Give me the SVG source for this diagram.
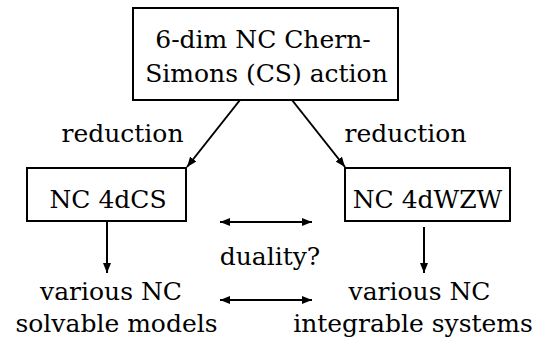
<svg xmlns="http://www.w3.org/2000/svg" width="540" height="339" viewBox="0 0 540 339">
<style>
text{font-family:"DejaVu Serif","Liberation Serif",serif;font-size:25px;fill:#000;text-anchor:middle}
.box{fill:#fff;stroke:#000;stroke-width:2}
.ln{stroke:#000;stroke-width:2;fill:none}
</style>
<defs>
<marker id="ah" viewBox="0 0 10 8" refX="10" refY="4" markerWidth="5" markerHeight="4" orient="auto-start-reverse" markerUnits="strokeWidth">
<path d="M0,0 L10,4 L0,8 Z" fill="#000"/>
</marker>
</defs>
<rect width="540" height="339" fill="#fff"/>
<g id="connectors">
<line class="ln" x1="240" y1="100" x2="187" y2="167" marker-end="url(#ah)"/>
<line class="ln" x1="292" y1="100" x2="345" y2="167" marker-end="url(#ah)"/>
<line class="ln" x1="107" y1="222" x2="107" y2="273" marker-end="url(#ah)"/>
<line class="ln" x1="424" y1="227" x2="424" y2="273" marker-end="url(#ah)"/>
<line class="ln" x1="220" y1="222" x2="312" y2="222" marker-start="url(#ah)" marker-end="url(#ah)"/>
<line class="ln" x1="220" y1="300" x2="312" y2="300" marker-start="url(#ah)" marker-end="url(#ah)"/>
</g>
<g id="node-6dim">
<rect class="box" x="133" y="8" width="265" height="92"/>
<text x="263" y="48">6-dim NC Chern-</text>
<text x="266.5" y="82">Simons (CS) action</text>
</g>
<g id="label-reduction-left"><text x="122.5" y="142">reduction</text></g>
<g id="label-reduction-right"><text x="405.5" y="142">reduction</text></g>
<g id="node-4dcs">
<rect class="box" x="27" y="168" width="159" height="53"/>
<text x="108" y="208">NC 4dCS</text>
</g>
<g id="node-4dwzw">
<rect class="box" x="345" y="168" width="165" height="53"/>
<text x="427.5" y="208">NC 4dWZW</text>
</g>
<g id="label-duality"><text x="270" y="265">duality?</text></g>
<g id="node-solvable">
<text x="111" y="300">various NC</text>
<text x="116.5" y="332">solvable models</text>
</g>
<g id="node-integrable">
<text x="419.5" y="300">various NC</text>
<text x="413" y="332">integrable systems</text>
</g>
</svg>
